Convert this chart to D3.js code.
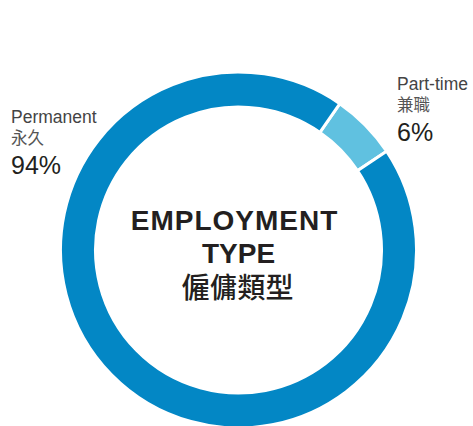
<!DOCTYPE html>
<html><head><meta charset="utf-8">
<script src="https://cdn.jsdelivr.net/npm/d3@7"></script>
<style>
html,body{margin:0;padding:0;background:#fff;}
svg{display:block;}
</style></head>
<body>
<script>
const categories = ["Part-time", "Permanent"];
const categoriesZh = ["兼職", "永久"];
const values = [6, 94];
const colors = ["#60C1E0", "#0387C5"];
const titleLines = ["EMPLOYMENT", "TYPE"];
const titleZh = "僱傭類型";

const W = 473, H = 426;
const cx = 238.5, cy = 250, rOuter = 178, rInner = 143;

const svg = d3.select("body").append("svg").attr("width", W).attr("height", H);
const g = svg.append("g").attr("transform", `translate(${cx},${cy})`);

const pie = d3.pie().sort(null).value(d => d.v)
  .startAngle(34.7 * Math.PI / 180).endAngle(34.7 * Math.PI / 180 + 2 * Math.PI);
const arc = d3.arc().innerRadius(rInner).outerRadius(rOuter);
const data = categories.map((c, i) => ({c, v: values[i], col: colors[i]}));

g.selectAll("path").data(pie(data)).join("path")
  .attr("d", arc).attr("fill", d => d.data.col)
  .attr("stroke", "#fff").attr("stroke-width", 3);

const font = "'Liberation Sans', Arial, Helvetica, sans-serif";
const cjk = "'Noto Sans CJK TC', 'Noto Sans CJK SC', sans-serif";

// center title
const t = svg.append("g");
t.append("text").attr("x", cx - 4).attr("y", 230).attr("text-anchor", "middle")
  .attr("font-family", font).attr("font-weight", "bold").attr("font-size", 28)
  .attr("letter-spacing", 1).attr("fill", "#231f20").text(titleLines[0]);
t.append("text").attr("x", cx).attr("y", 263).attr("text-anchor", "middle")
  .attr("font-family", font).attr("font-weight", "bold").attr("font-size", 28)
  .attr("fill", "#231f20").text(titleLines[1]);
t.append("text").attr("x", cx - 1).attr("y", 298).attr("text-anchor", "middle")
  .attr("font-family", cjk).attr("font-weight", 500).attr("font-size", 28)
  .attr("fill", "#231f20").text(titleZh);

// labels
const labelPos = [{x: 397, y: 90}, {x: 11, y: 123}];
data.forEach((d, i) => {
  const p = labelPos[i];
  const lg = svg.append("g");
  lg.append("text").attr("x", p.x).attr("y", p.y)
    .attr("font-family", font).attr("font-size", 17.5).attr("fill", "#444")
    .text(categories[i]);
  lg.append("text").attr("x", p.x).attr("y", p.y + 21)
    .attr("font-family", cjk).attr("font-size", 16.5).attr("fill", "#555")
    .text(categoriesZh[i]);
  lg.append("text").attr("x", p.x).attr("y", p.y + 51)
    .attr("font-family", font).attr("font-size", 25).attr("fill", "#231f20")
    .text(values[i] + "%");
});
</script>
</body></html>
